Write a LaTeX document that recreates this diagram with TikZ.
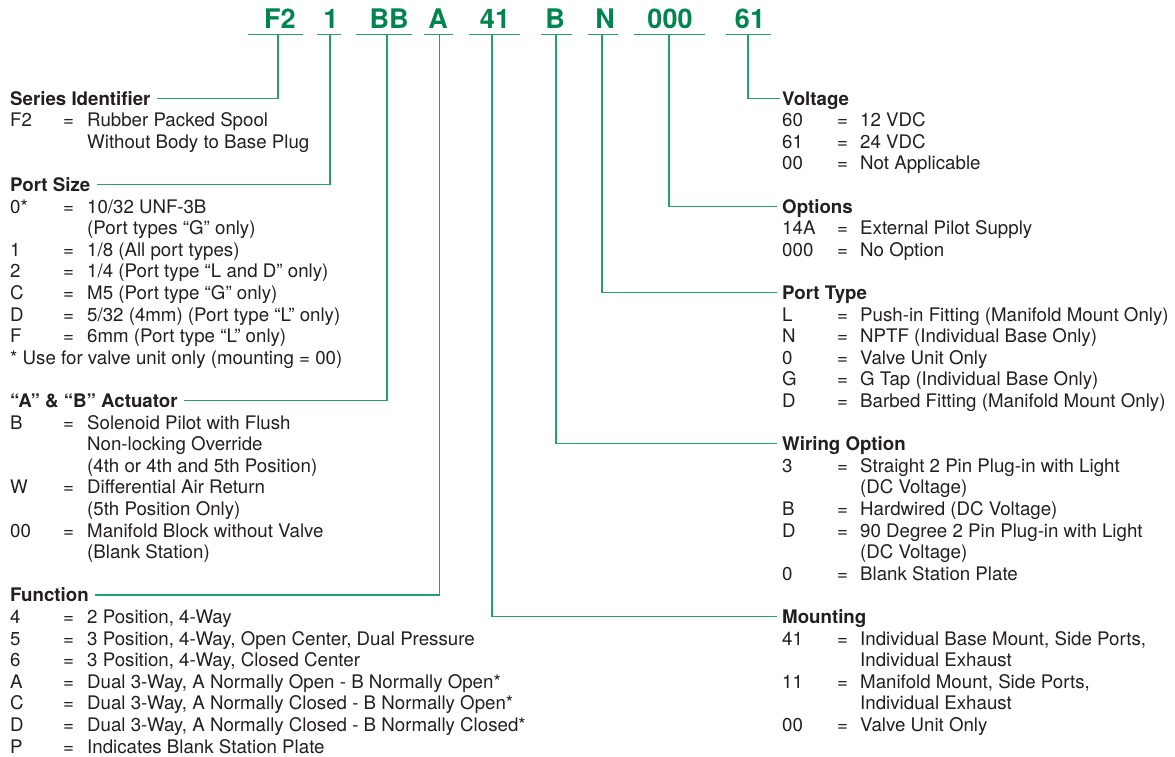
\documentclass[tikz,border=0pt]{standalone}
\usepackage{fontspec}
\setmainfont{TeX Gyre Heros}
\definecolor{codegreen}{RGB}{0,133,79}
\definecolor{linegreen}{RGB}{38,158,110}
\definecolor{ink}{RGB}{35,31,32}
\tikzset{
  ln/.style={draw=linegreen, line width=1.1pt},
  txt/.style={anchor=base west, inner sep=0pt, text=ink, font=\fontsize{18.7}{21.6}\selectfont},
  ttl/.style={anchor=base west, inner sep=0pt, text=ink, font=\fontsize{18.7}{21.6}\selectfont\bfseries, text height=13.6pt, text depth=0pt},
  code/.style={anchor=base, inner sep=0pt, text=codegreen, font=\fontsize{27}{30}\selectfont\bfseries},
  ubar/.style={inner sep=0pt, outer sep=0pt, minimum height=0pt},
}
% left column rows
\newcommand\Lrow[3]{%
  \node[txt] (L#1c) at (10,{105+21.6*#1}) {#2};
  \node[txt] (L#1e) at (63,{105+21.6*#1}) {=};
  \node[txt] (L#1d) at (87,{105+21.6*#1}) {#3};}
\newcommand\Lcont[2]{%
  \node[txt] (L#1d) at (87,{105+21.6*#1}) {#2};}
% right column rows
\newcommand\Rrow[3]{%
  \node[txt] (R#1c) at (782,{105+21.6*#1}) {#2};
  \node[txt] (R#1e) at (837,{105+21.6*#1}) {=};
  \node[txt] (R#1d) at (860,{105+21.6*#1}) {#3};}
\newcommand\Rcont[2]{%
  \node[txt] (R#1d) at (860,{105+21.6*#1}) {#2};}
\begin{document}
\begin{tikzpicture}[x=1pt,y=-1pt]
\useasboundingbox (0,0) rectangle (1175,756);

% ---- part number codes ----
\node[code] (c1) at (280,28.5) {F2};
\node[code] (c2) at (331,28.5) {1};
\node[code] (c3) at (389,28.5) {BB};
\node[code] (c4) at (438,28.5) {A};
\node[code] (c5) at (495,28.5) {41};
\node[code] (c6) at (555,28.5) {B};
\node[code] (c7) at (605,28.5) {N};
\node[code] (c8) at (670,28.5) {000};
\node[code] (c9) at (750,28.5) {61};

\node[ubar, minimum width=54.5pt] (u1) at (275.7,34.5) {};
\node[ubar, minimum width=24pt]   (u2) at (329,34.5) {};
\node[ubar, minimum width=56pt]   (u3) at (384,34.5) {};
\node[ubar, minimum width=29.5pt] (u4) at (438.7,34.5) {};
\node[ubar, minimum width=50.5pt] (u5) at (494.7,34.5) {};
\node[ubar, minimum width=30.6pt] (u6) at (556.3,34.5) {};
\node[ubar, minimum width=30pt]   (u7) at (603,34.5) {};
\node[ubar, minimum width=71pt]   (u8) at (669.5,34.5) {};
\node[ubar, minimum width=45pt]   (u9) at (748.5,34.5) {};
\foreach \k in {1,...,9} {\draw[ln] (u\k.west) -- (u\k.east);}

\coordinate (v1) at (278,34.5);
\coordinate (v2) at (330,34.5);
\coordinate (v3) at (387,34.5);
\coordinate (v4) at (439.5,34.5);
\coordinate (v5) at (492,34.5);
\coordinate (v6) at (556,34.5);
\coordinate (v7) at (602,34.5);
\coordinate (v8) at (669,34.5);
\coordinate (v9) at (748,34.5);

% ---- left column ----
\node[ttl] (t1) at (10,105) {Series Identifier};
\Lrow{1}{F2}{Rubber Packed Spool}
\Lcont{2}{Without Body to Base Plug}

\node[ttl] (t2) at (10,{105+21.6*4}) {Port Size};
\Lrow{5}{0*}{10/32 UNF-3B}
\Lcont{6}{(Port types “G” only)}
\Lrow{7}{1}{1/8 (All port types)}
\Lrow{8}{2}{1/4 (Port type “L and D” only)}
\Lrow{9}{C}{M5 (Port type “G” only)}
\Lrow{10}{D}{5/32 (4mm) (Port type “L” only)}
\Lrow{11}{F}{6mm (Port type “L” only)}
\node[txt] (L12d) at (10,{105+21.6*12}) {* Use for valve unit only (mounting = 00)};

\node[ttl] (t3) at (10,{105+21.6*14}) {“A” \& “B” Actuator};
\Lrow{15}{B}{Solenoid Pilot with Flush}
\Lcont{16}{Non-locking Override}
\Lcont{17}{(4th or 4th and 5th Position)}
\Lrow{18}{W}{Differential Air Return}
\Lcont{19}{(5th Position Only)}
\Lrow{20}{00}{Manifold Block without Valve}
\Lcont{21}{(Blank Station)}

\node[ttl] (t4) at (10,{105+21.6*23}) {Function};
\Lrow{24}{4}{2 Position, 4-Way}
\Lrow{25}{5}{3 Position, 4-Way, Open Center, Dual Pressure}
\Lrow{26}{6}{3 Position, 4-Way, Closed Center}
\Lrow{27}{A}{Dual 3-Way, A Normally Open - B Normally Open*}
\Lrow{28}{C}{Dual 3-Way, A Normally Closed - B Normally Open*}
\Lrow{29}{D}{Dual 3-Way, A Normally Closed - B Normally Closed*}
\Lrow{30}{P}{Indicates Blank Station Plate}

% ---- right column ----
\node[ttl] (t9) at (782,105) {Voltage};
\Rrow{1}{60}{12 VDC}
\Rrow{2}{61}{24 VDC}
\Rrow{3}{00}{Not Applicable}

\node[ttl] (t8) at (782,{105+21.6*5}) {Options};
\Rrow{6}{14A}{External Pilot Supply}
\Rrow{7}{000}{No Option}

\node[ttl] (t7) at (782,{105+21.6*9}) {Port Type};
\Rrow{10}{L}{Push-in Fitting (Manifold Mount Only)}
\Rrow{11}{N}{NPTF (Individual Base Only)}
\Rrow{12}{0}{Valve Unit Only}
\Rrow{13}{G}{G Tap (Individual Base Only)}
\Rrow{14}{D}{Barbed Fitting (Manifold Mount Only)}

\node[ttl] (t6) at (782,{105+21.6*16}) {Wiring Option};
\Rrow{17}{3}{Straight 2 Pin Plug-in with Light}
\Rcont{18}{(DC Voltage)}
\Rrow{19}{B}{Hardwired (DC Voltage)}
\Rrow{20}{D}{90 Degree 2 Pin Plug-in with Light}
\Rcont{21}{(DC Voltage)}
\Rrow{22}{0}{Blank Station Plate}

\node[ttl] (t5) at (782,{105+21.6*24}) {Mounting};
\Rrow{25}{41}{Individual Base Mount, Side Ports,}
\Rcont{26}{Individual Exhaust}
\Rrow{27}{11}{Manifold Mount, Side Ports,}
\Rcont{28}{Individual Exhaust}
\Rrow{29}{00}{Valve Unit Only}

% ---- connectors ----
\draw[ln] ([xshift=6pt]t1.east) -| (v1);
\draw[ln] ([xshift=6pt]t2.east) -| (v2);
\draw[ln] ([xshift=6pt]t3.east) -| (v3);
\draw[ln] ([xshift=6pt]t4.east) -| (v4);
\draw[ln] (v5) |- ([xshift=-5pt]t5.west);
\draw[ln] (v6) |- ([xshift=-5pt]t6.west);
\draw[ln] (v7) |- ([xshift=-5pt]t7.west);
\draw[ln] (v8) |- ([xshift=-5pt]t8.west);
\draw[ln] (v9) |- ([xshift=-2pt]t9.west);
\end{tikzpicture}
\end{document}
